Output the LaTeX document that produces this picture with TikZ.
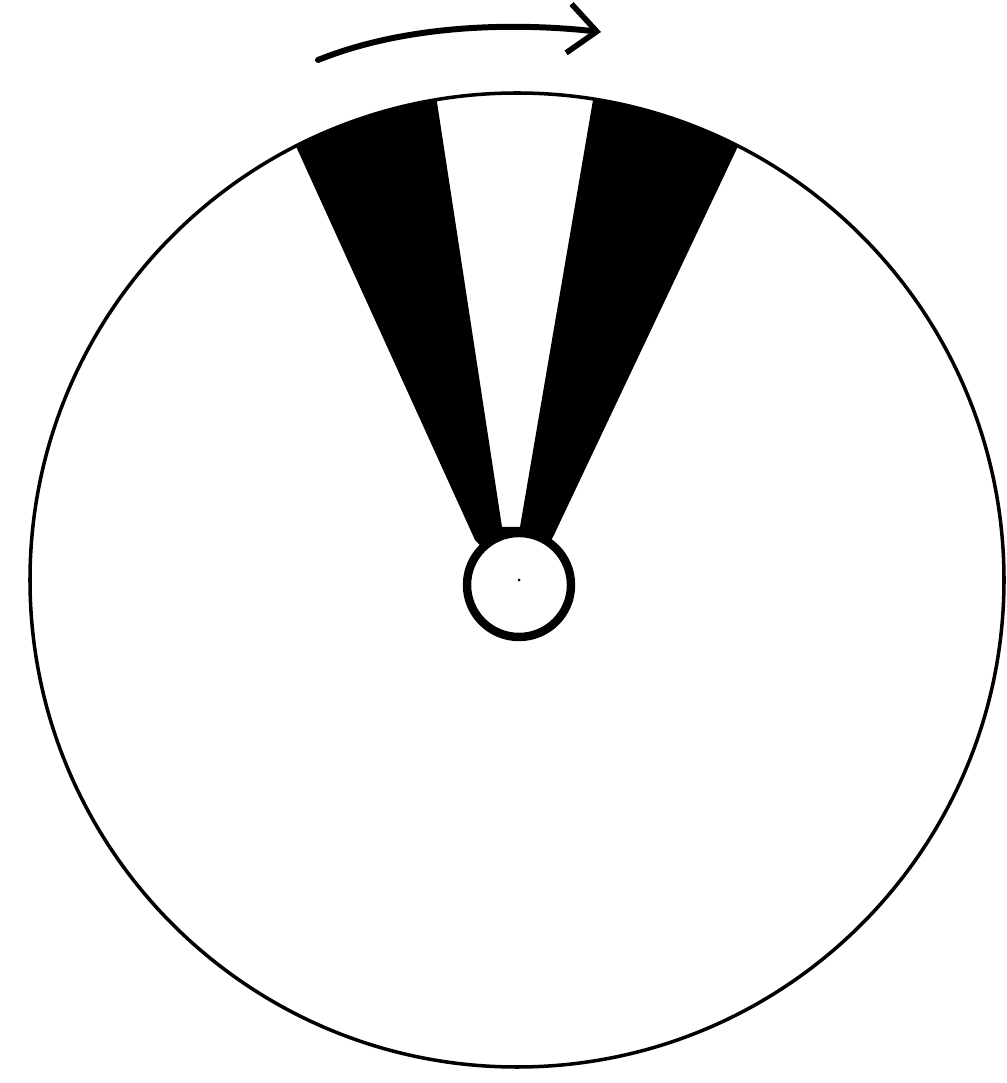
\documentclass[tikz,border=0pt]{standalone}
\usepackage{tikz}
\usetikzlibrary{arrows.meta, calc}

\begin{document}
\begin{tikzpicture}[
	x=0.02cm, y=0.02cm,
	% Style for the disc parts
	disc/.style={draw=black, line width=2pt},
	hub/.style={draw=black, fill=white, line width=4.8pt},
	blade/.style={fill=black},
	% Arrow Styles
	turn/.style={-{Straight Barb[length=16pt, width=28pt, line width=3.2pt]}, line width=3.4pt, line cap=round}
	]
	
	\useasboundingbox (0,0) rectangle (1007,1083);
	
	% --- CENTRES ---
	\coordinate (C) at (517,503);
	\coordinate (H) at (519,498);
	
	% --- DARK SECTORS (joined above the hub) ---
	\fill[blade] ($(C)+(117:487)$) arc[start angle=117, end angle=99.5, radius=487]
		-- (502,556) -- (520,556)
		-- ($(C)+(81:487)$) arc[start angle=81, end angle=63, radius=487]
		-- (553,546) -- (H) -- (475,543) -- cycle;
	
	% --- DISC AND HUB ---
	\draw[disc] (C) circle[radius=487];
	\draw[hub] (H) circle[radius=52];
	\fill (519,503) circle[radius=1.5];
	
	% --- DIRECTION OF TURN ---
	\coordinate (start) at (318,1023);
	\coordinate (tip) at (601,1051);
	\draw[turn] (start) .. controls (410,1060) and (520,1060) .. (tip);
	
\end{tikzpicture}
\end{document}
